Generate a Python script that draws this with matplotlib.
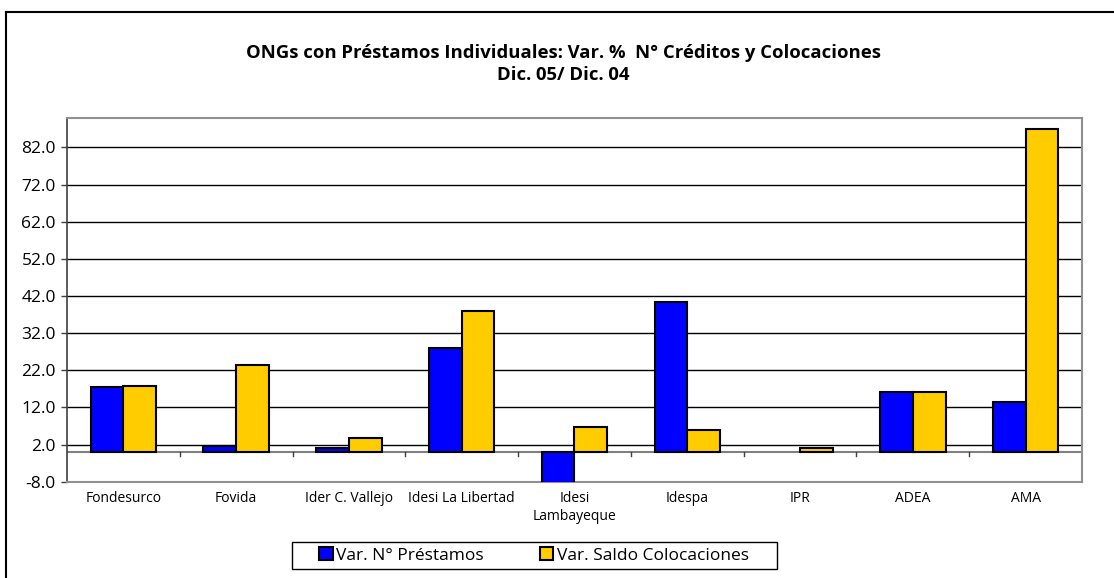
import matplotlib
matplotlib.use("Agg")
import matplotlib.pyplot as plt
from matplotlib.lines import Line2D
from matplotlib.patches import Patch, Rectangle
import numpy as np

categories = ["Fondesurco", "Fovida", "Ider C. Vallejo", "Idesi La Libertad",
              "Idesi\nLambayeque", "Idespa", "IPR", "ADEA", "AMA"]
prestamos = [17.4, 1.7, 1.1, 28.1, -10.0, 40.5, np.nan, 16.1, 13.4]
colocaciones = [17.8, 23.3, 3.8, 37.9, 6.6, 5.8, 1.1, 16.1, 87.0]
yticks = [-8.0, 2.0, 12.0, 22.0, 32.0, 42.0, 52.0, 62.0, 72.0, 82.0]
title = "ONGs con Préstamos Individuales: Var. %  N° Créditos y Colocaciones\nDic. 05/ Dic. 04"
series_names = ["Var. N° Préstamos", "Var. Saldo Colocaciones"]

plt.rcParams['font.family'] = ['Open Sans', 'DejaVu Sans']

W, H = 1114, 578
fig = plt.figure(figsize=(W/100, H/100), dpi=100)
ax = fig.add_axes([67/W, 1-481.7/H, (1082-67)/W, (481.7-117.7)/H])

x = np.arange(len(categories))
bw = 0.29
ax.bar(x - bw/2, prestamos, bw, color="#0000FF", edgecolor="black", linewidth=1.5, zorder=3)
ax.bar(x + bw/2, colocaciones, bw, color="#FFCC00", edgecolor="black", linewidth=1.5, zorder=3)

ax.set_xlim(-0.5, len(categories) - 0.5)
ax.set_ylim(-8, 90)
ax.set_yticks(yticks)
ax.set_yticklabels([f"{v:.1f}" for v in yticks], fontsize=12.5)
for v in yticks[1:]:
    ax.axhline(v, color="black", linewidth=1, zorder=1)
ax.axhline(0, color="#808080", linewidth=1.5, zorder=2)

ax.set_xticks(x)
ax.set_xticklabels(categories, fontsize=10, linespacing=1.25)
ax.tick_params(axis='x', length=0, pad=7)
ax.tick_params(axis='y', length=4, width=1, color="#404040", pad=4)
for b in np.arange(0.5, len(categories) - 0.5, 1.0):
    ax.plot([b, b], [0, -1.2], color="#404040", linewidth=1, zorder=2, clip_on=False)

for s in ["top", "right", "bottom"]:
    ax.spines[s].set_color("#909090")
    ax.spines[s].set_linewidth(1.5)
ax.spines["left"].set_color("#404040")
ax.spines["left"].set_linewidth(1.2)

fig.text(563/W, 1-64/H, title, ha="center", va="center", fontsize=13.3,
         fontweight="bold", linespacing=1.35)

handles = [Patch(facecolor="#0000FF", edgecolor="black", linewidth=1.5),
           Patch(facecolor="#FFCC00", edgecolor="black", linewidth=1.5)]
leg = fig.legend(handles, series_names, loc="center", bbox_to_anchor=(534/W, 1-555.5/H),
                 ncol=2, fontsize=12.5, frameon=False, handlelength=0.8,
                 handleheight=0.8, handletextpad=0.2, columnspacing=3.2,
                 borderpad=0.2, borderaxespad=0)
fig.add_artist(Rectangle((292/W, 1-569/H), (777-292)/W, (569-542)/H,
                         transform=fig.transFigure, fill=False,
                         edgecolor="black", linewidth=1))

fig.add_artist(Line2D([6/W, 6/W], [0, 1-12/H], color="black", linewidth=1.5))
fig.add_artist(Line2D([6/W, 1], [1-12/H, 1-12/H], color="black", linewidth=1.5))

fig.savefig("out.png", dpi=100)
